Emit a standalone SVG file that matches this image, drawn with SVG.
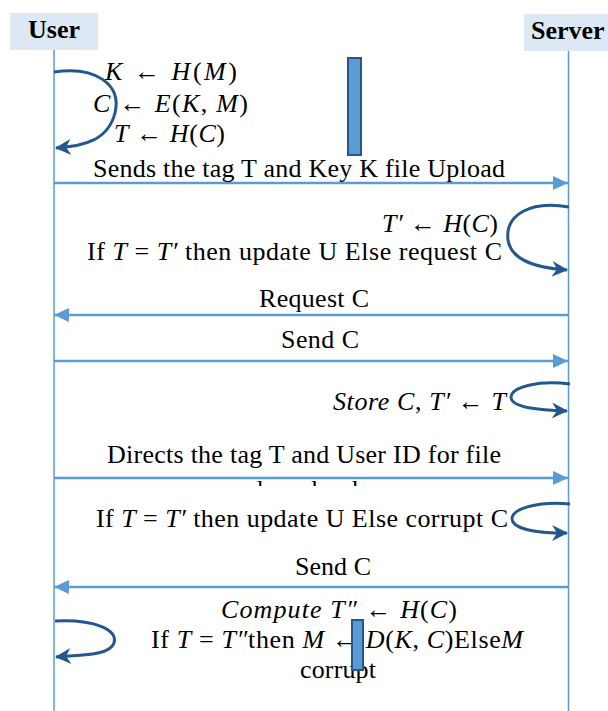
<svg xmlns="http://www.w3.org/2000/svg" width="608" height="711" viewBox="0 0 608 711">
<style>
text{font-family:"Liberation Serif","Times New Roman",serif;font-size:26px;fill:#000}
.hd{font-weight:bold;font-size:26px}
.i{font-style:italic}
.life{stroke:#5b9bd5;stroke-width:1.5;fill:none}
.msg{stroke:#5b9bd5;stroke-width:2.5;fill:none}
.loop{stroke:#24578b;stroke-width:3;fill:none}
.act{fill:#5b9bd5;stroke:#24578b;stroke-width:2}
</style>
<defs>
<marker id="ah" markerUnits="userSpaceOnUse" markerWidth="16" markerHeight="16" refX="15" refY="8" orient="auto">
<path d="M0,1 L15,8 L0,15 z" fill="#5b9bd5"/>
</marker>
<marker id="lh" markerUnits="userSpaceOnUse" markerWidth="18" markerHeight="18" refX="15" refY="9" orient="auto">
<path d="M0,1 L16,9 L0,17 L5,9 z" fill="#24578b"/>
</marker>
<clipPath id="dl"><rect x="200" y="479" width="220" height="7"/></clipPath>
</defs>

<g id="user">
<rect x="10" y="13" width="88" height="37" fill="#dde8f5"/>
<text class="hd" x="28" y="38" textLength="52">User</text>
<line class="life" x1="54" y1="50" x2="54" y2="711"/>
</g>
<g id="server">
<rect x="524" y="14" width="84" height="37" fill="#dde8f5"/>
<text class="hd" x="531" y="39">Server</text>
<line class="life" x1="568.5" y1="51" x2="568.5" y2="711"/>
</g>
<g id="activation-top"><rect class="act" x="348" y="58" width="13" height="97"/></g>

<g id="user-compute">
<text x="105" y="80" textLength="132"><tspan class="i">K</tspan> ← <tspan class="i">H</tspan>(<tspan class="i">M</tspan>)</text>
<text x="93" y="112" textLength="155"><tspan class="i">C</tspan> ← <tspan class="i">E</tspan>(<tspan class="i">K</tspan>, <tspan class="i">M</tspan>)</text>
<text x="114" y="142" textLength="111"><tspan class="i">T</tspan> ← <tspan class="i">H</tspan>(<tspan class="i">C</tspan>)</text>
</g>
<g id="server-check">
<text x="382" y="232" textLength="116"><tspan class="i">T′</tspan> ← <tspan class="i">H</tspan>(<tspan class="i">C</tspan>)</text>
<text x="87" y="260" textLength="415">If <tspan class="i">T</tspan> = <tspan class="i">T′</tspan> then update U Else request C</text>
</g>
<g id="server-store">
<text x="333" y="410" textLength="173"><tspan class="i">Store C</tspan>, <tspan class="i">T′</tspan> ← <tspan class="i">T</tspan></text>
</g>
<g id="server-verify">
<text x="96" y="527" textLength="412">If <tspan class="i">T</tspan> = <tspan class="i">T′</tspan> then update U Else corrupt C</text>
</g>
<g id="user-decrypt">
<text x="221" y="618" textLength="236"><tspan class="i">Compute T″</tspan> ← <tspan class="i">H</tspan>(<tspan class="i">C</tspan>)</text>
<text x="151" y="648" textLength="372">If <tspan class="i">T</tspan> = <tspan class="i">T″</tspan>then <tspan class="i">M</tspan> ← <tspan class="i">D</tspan>(<tspan class="i">K</tspan>, <tspan class="i">C</tspan>)Else<tspan class="i">M</tspan></text>
<text x="300" y="678" textLength="76">corrupt</text>
</g>
<g id="activation-bottom"><rect class="act" x="352" y="620" width="11" height="50"/></g>

<g id="connectors">
<path class="loop" marker-end="url(#lh)" d="M54,72 C95,66 122,84 115,113 C108,140 85,146 56,148"/>
<line class="msg" marker-end="url(#ah)" x1="54" y1="183" x2="568" y2="183"/>
<text x="93" y="177" textLength="412">Sends the tag T and Key K file Upload</text>
<path class="loop" marker-end="url(#lh)" d="M569,207 C530,200 505,215 508,240 C511,262 540,268 567,270"/>
<line class="msg" marker-end="url(#ah)" x1="569" y1="315" x2="54" y2="315"/>
<text x="259" y="307" textLength="110">Request C</text>
<line class="msg" marker-end="url(#ah)" x1="54" y1="361" x2="568" y2="361"/>
<text x="281" y="348" textLength="78">Send C</text>
<path class="loop" marker-end="url(#lh)" d="M570,384 C538,380 512,387 511,397 C511,408 540,410 567,411"/>
<line class="msg" marker-end="url(#ah)" x1="54" y1="478" x2="568" y2="478"/>
<text x="107" y="463" textLength="394">Directs the tag T and User ID for file</text>
<text x="250" y="498" textLength="108" clip-path="url(#dl)">download</text>
<path class="loop" marker-end="url(#lh)" d="M570,504 C540,501 512,508 512,519 C513,530 540,533 567,533"/>
<line class="msg" marker-end="url(#ah)" x1="569" y1="587" x2="54" y2="587"/>
<text x="295" y="575" textLength="76">Send C</text>
<path class="loop" marker-end="url(#lh)" d="M55,621 C95,619 118,630 114,643 C110,655 85,655 56,657"/>
</g>
</svg>
